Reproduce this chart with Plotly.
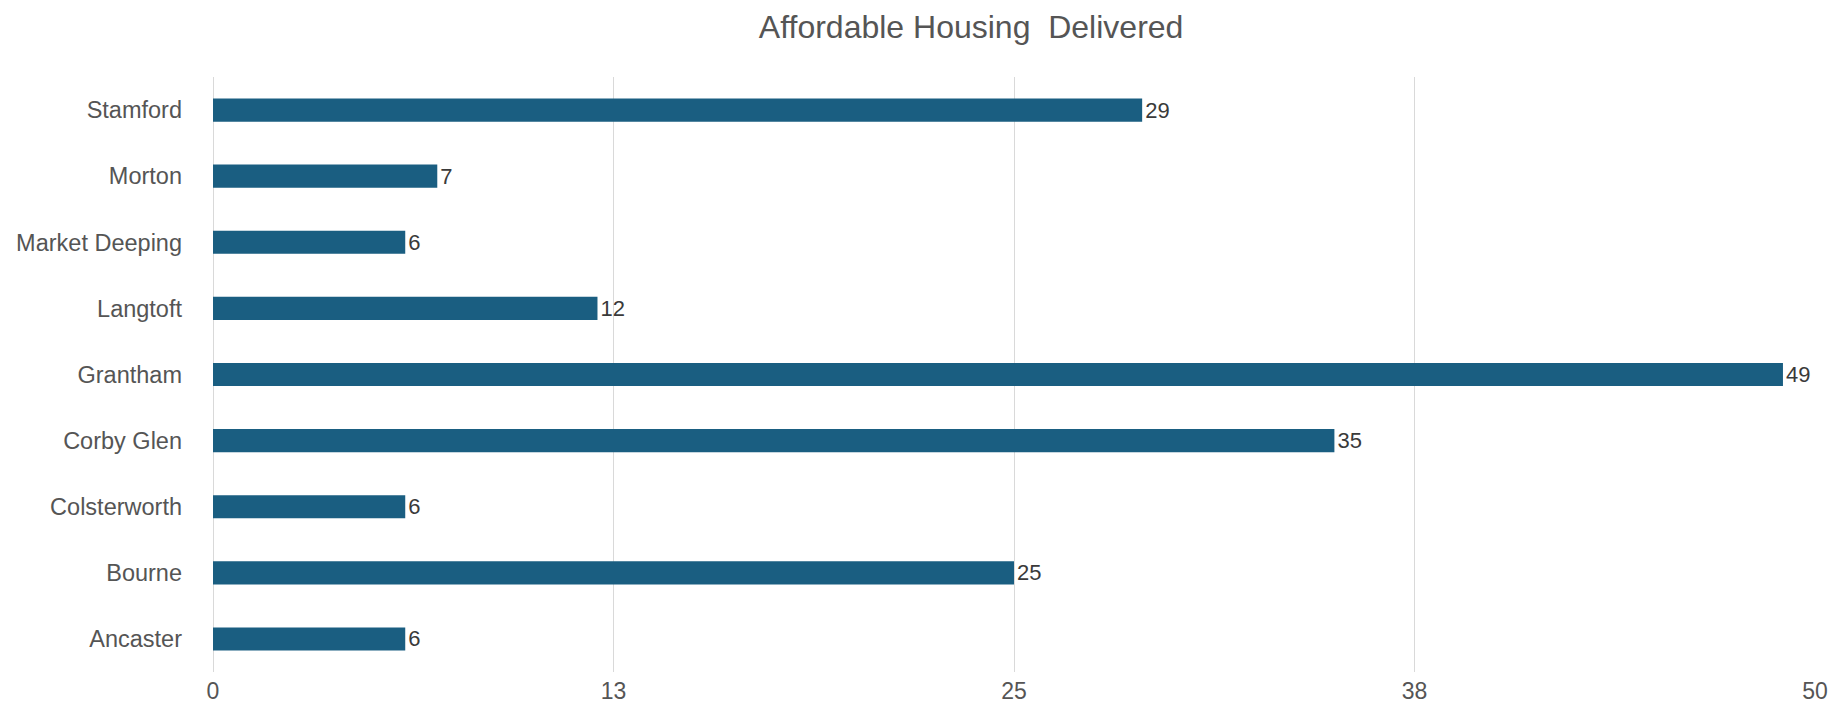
import plotly.graph_objects as go

categories = ["Ancaster", "Bourne", "Colsterworth", "Corby Glen", "Grantham",
              "Langtoft", "Market Deeping", "Morton", "Stamford"]
values = [6, 25, 6, 35, 49, 12, 6, 7, 29]
tick_vals = [0, 12.5, 25, 37.5, 50]
tick_text = ["0", "13", "25", "38", "50"]

FONT = "Liberation Sans, Arial, Helvetica"

fig = go.Figure(go.Bar(
    x=values, y=categories, orientation="h",
    marker=dict(color="#1a5e81", line=dict(width=0)),
    text=[str(v) for v in values], textposition="outside",
    constraintext="none",
    textfont=dict(size=22, color="#3a3a3a", family=FONT),
    cliponaxis=False,
))

fig.update_layout(
    width=1831, height=699,
    paper_bgcolor="white", plot_bgcolor="white",
    margin=dict(l=205, r=24, t=69, b=35, autoexpand=False),
    bargap=0.65,
    title=dict(text="Affordable Housing \u00a0Delivered", x=0.526, xanchor="center",
               y=0.973, yanchor="middle",
               font=dict(size=32, color="#555555", family=FONT)),
    font=dict(family=FONT, size=23, color="#555555"),
    showlegend=False,
)
fig.update_xaxes(range=[0, 50], tickvals=tick_vals, ticktext=tick_text,
                 showgrid=True, gridcolor="#d9d9d9", gridwidth=1,
                 zeroline=True, zerolinecolor="#d9d9d9", zerolinewidth=1,
                 showline=False, ticks="", ticklabelstandoff=3, automargin=False,
                 tickfont=dict(size=23, color="#555555"))
fig.update_yaxes(categoryorder="array", categoryarray=categories,
                 showgrid=False, showline=False, ticks="", ticklabelstandoff=30,
                 automargin=False,
                 tickfont=dict(size=23.5, color="#555555"))

fig.write_html("out.html")
